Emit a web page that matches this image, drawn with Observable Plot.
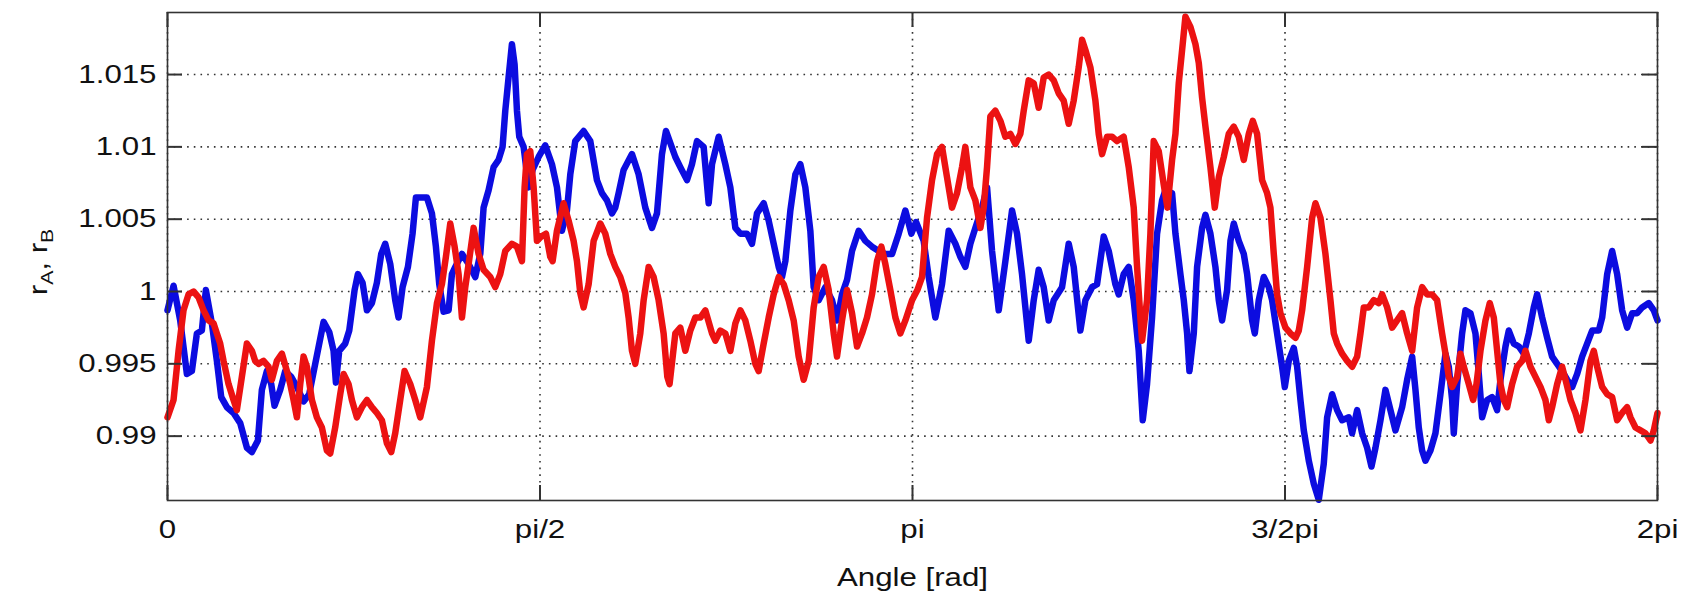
<!DOCTYPE html>
<html><head><meta charset="utf-8">
<script src="https://cdn.jsdelivr.net/npm/d3@7"></script>
<script src="https://cdn.jsdelivr.net/npm/@observablehq/plot@0.6"></script>
<style>body{margin:0;background:#fff;} svg{display:block;}</style>
</head><body><div id="chart"></div>
<script>
// Angle samples in degrees (converted to radians for the x scale), radius ratios
const blueAngleDeg = [0,1.46,3.07,4.68,5.89,7.10,8.30,9.27,10.72,11.93,12.98,14.35,15.96,17.57,19.18,20.39,21.84,22.80,24.01,25.06,25.86,27.23,28.44,29.89,31.26,32.87,34.24,35.69,37.71,39.08,40.12,40.69,41.49,42.94,43.91,45.20,46.00,47.13,48.18,49.39,50.59,51.64,52.61,53.82,55.02,55.83,56.80,58.09,59.21,60.02,61.47,62.68,63.89,64.85,65.66,66.71,67.92,68.72,69.53,71.14,72.75,74.36,75.57,76.37,77.58,78.79,79.99,80.96,81.61,82.41,83.22,83.86,84.43,84.99,86.04,87.25,88.21,89.66,91.27,92.89,94.10,95.30,96.51,97.32,98.52,100.54,102.15,103.76,104.97,106.18,107.39,108.19,108.99,110.20,112.22,113.83,115.44,117.05,118.26,119.47,120.43,122.70,123.90,125.52,126.72,127.93,129.54,130.75,131.56,133.17,134.78,135.99,137.20,138.40,140.01,141.22,142.43,144.04,145.25,146.46,147.67,148.47,149.28,150.49,151.70,152.90,154.11,155.32,156.12,157.33,158.94,160.56,161.76,162.97,164.18,165.39,167.00,168.61,170.22,171.83,173.44,175.06,176.67,178.28,179.73,180.86,182.70,183.91,185.52,187.13,188.75,190.36,191.56,192.77,193.98,195.19,196.80,198.01,199.22,200.83,202.44,204.05,205.26,206.46,208.08,209.29,210.49,211.70,212.91,214.12,216.13,217.74,218.95,220.56,221.77,223.38,224.59,226.20,227.41,229.02,229.83,231.03,232.24,233.45,234.66,235.63,236.67,237.88,239.09,240.30,241.10,242.72,243.53,244.73,245.54,246.35,246.91,247.96,248.76,249.97,250.78,251.98,253.19,254.00,254.80,256.01,256.82,257.62,258.83,260.04,260.85,262.05,262.70,263.66,264.87,266.08,266.89,268.09,269.30,269.95,270.91,272.12,272.93,273.73,274.54,275.75,276.96,278.16,279.37,280.18,281.39,282.59,283.80,285.41,286.22,287.43,288.64,289.84,290.89,291.86,293.07,294.27,295.48,296.69,298.30,299.51,300.72,301.52,302.32,303.13,303.93,305.14,306.35,307.56,308.77,309.57,310.38,310.78,311.59,312.79,313.60,314.81,316.02,316.82,317.63,318.84,320.04,321.25,322.06,323.27,324.07,325.28,326.49,327.70,328.91,330.11,330.92,332.13,333.34,334.54,335.75,336.96,338.17,339.38,340.59,341.79,343.00,344.21,345.82,346.63,347.84,349.04,350.25,351.46,352.67,353.88,355.08,356.29,357.90,359.11,360];
const blueValue = [0.9987,1.0004,0.9980,0.9943,0.9945,0.9971,0.9973,1.0001,0.9978,0.9952,0.9927,0.9920,0.9916,0.9909,0.9892,0.9889,0.9897,0.9932,0.9945,0.9936,0.9921,0.9932,0.9945,0.9941,0.9934,0.9924,0.9929,0.9950,0.9979,0.9972,0.9959,0.9937,0.9959,0.9964,0.9973,1.0001,1.0012,1.0006,0.9987,0.9992,1.0006,1.0026,1.0033,1.0019,0.9994,0.9982,1.0003,1.0017,1.0040,1.0065,1.0065,1.0065,1.0054,1.0031,1.0005,0.9986,0.9987,1.0012,1.0017,1.0026,1.0019,1.0010,1.0026,1.0058,1.0070,1.0086,1.0091,1.0100,1.0125,1.0148,1.0171,1.0157,1.0125,1.0107,1.0100,1.0072,1.0084,1.0093,1.0101,1.0088,1.0072,1.0042,1.0056,1.0081,1.0104,1.0111,1.0104,1.0077,1.0068,1.0063,1.0054,1.0058,1.0068,1.0084,1.0095,1.0081,1.0058,1.0044,1.0054,1.0095,1.0111,1.0093,1.0086,1.0077,1.0088,1.0104,1.0100,1.0061,1.0088,1.0107,1.0088,1.0072,1.0044,1.0040,1.0040,1.0033,1.0054,1.0061,1.0049,1.0033,1.0017,1.0010,1.0021,1.0056,1.0081,1.0088,1.0072,1.0042,1.0003,0.9994,1.0003,0.9994,0.9980,0.9998,1.0008,1.0028,1.0042,1.0035,1.0031,1.0028,1.0026,1.0026,1.0040,1.0056,1.0040,1.0048,1.0035,1.0010,0.9982,1.0005,1.0042,1.0033,1.0024,1.0017,1.0033,1.0044,1.0058,1.0072,1.0028,0.9987,1.0021,1.0056,1.0040,1.0012,0.9966,0.9994,1.0015,1.0003,0.9980,0.9994,1.0003,1.0033,1.0017,0.9973,0.9994,1.0003,1.0005,1.0038,1.0028,1.0005,0.9998,1.0012,1.0017,0.9994,0.9959,0.9911,0.9936,0.9982,1.0040,1.0063,1.0070,1.0068,1.0040,1.0012,0.9994,0.9971,0.9945,0.9971,1.0017,1.0044,1.0053,1.0040,1.0017,0.9994,0.9980,1.0001,1.0035,1.0047,1.0035,1.0026,1.0012,0.9980,0.9971,0.9994,1.0010,1.0003,0.9994,0.9971,0.9948,0.9934,0.9952,0.9961,0.9948,0.9925,0.9904,0.9883,0.9867,0.9856,0.9881,0.9913,0.9929,0.9918,0.9911,0.9913,0.9902,0.9918,0.9902,0.9892,0.9879,0.9892,0.9911,0.9932,0.9918,0.9904,0.9920,0.9939,0.9955,0.9932,0.9906,0.9890,0.9883,0.9890,0.9902,0.9929,0.9957,0.9948,0.9925,0.9902,0.9936,0.9971,0.9987,0.9985,0.9971,0.9943,0.9913,0.9925,0.9927,0.9918,0.9939,0.9962,0.9973,0.9964,0.9962,0.9957,0.9971,0.9989,0.9998,0.9982,0.9968,0.9955,0.9950,0.9945,0.9939,0.9934,0.9943,0.9955,0.9964,0.9973,0.9973,0.9982,1.0012,1.0028,1.0012,0.9987,0.9975,0.9985,0.9985,0.9989,0.9992,0.9987,0.9980];
const redAngleDeg = [0,1.46,2.67,3.87,5.08,6.29,7.50,8.71,9.92,11.12,11.93,12.73,13.54,14.75,15.96,16.76,17.97,19.18,20.39,21.19,22.00,23.20,24.41,25.22,26.43,27.64,28.85,29.65,30.46,31.26,32.07,32.87,33.68,34.89,36.09,37.30,38.51,39.32,40.52,41.73,42.54,43.75,44.55,45.76,46.97,48.18,49.39,50.59,51.80,53.01,54.06,55.02,56.23,57.28,58.65,59.86,61.07,62.68,63.89,65.10,66.30,67.27,68.32,69.37,70.33,71.14,71.94,72.75,73.96,75.16,76.37,77.98,79.19,80.40,81.61,83.22,84.43,85.64,86.28,86.84,87.65,88.46,89.26,90.31,91.44,92.48,93.05,94.09,95.70,96.91,98.12,98.93,99.73,100.54,101.75,102.96,104.57,105.77,106.98,108.19,109.40,110.61,111.41,112.22,113.02,114.23,115.04,116.25,117.45,118.66,119.87,120.76,121.30,122.70,123.90,125.11,126.32,127.53,128.74,129.95,131.56,132.36,133.57,134.78,135.99,137.20,138.40,139.61,140.82,142.03,142.83,144.04,145.25,146.46,147.67,148.88,150.08,151.29,152.50,153.71,154.92,156.12,157.33,158.54,159.75,160.96,161.76,162.97,164.18,165.39,166.60,167.81,169.01,170.22,171.43,172.48,173.44,174.65,175.86,177.07,178.28,179.89,181.18,182.30,183.51,184.72,185.93,187.13,188.34,189.55,190.76,191.97,192.77,193.98,195.19,196.40,197.20,198.01,198.81,200.02,201.23,202.44,203.65,204.86,206.06,206.87,208.08,209.29,210.49,211.70,212.91,214.12,215.33,216.53,217.74,218.95,220.16,220.97,221.77,222.98,224.19,224.99,225.80,227.01,228.22,229.42,231.03,232.24,233.45,234.26,235.06,235.47,236.67,237.48,238.28,239.49,240.70,241.59,242.72,243.53,244.33,245.14,245.94,247.15,248.36,249.17,249.97,250.78,251.98,253.03,254.00,255.21,256.41,257.62,258.83,260.04,261.25,262.21,263.26,264.47,265.68,266.48,267.29,268.09,268.90,270.11,271.32,272.53,273.33,274.14,275.35,276.55,277.36,278.57,279.77,280.98,281.79,282.59,283.80,285.01,286.22,287.43,288.23,289.04,290.25,291.45,292.66,293.47,294.68,295.89,297.09,298.30,299.51,300.72,301.92,303.13,304.34,305.55,306.75,307.96,308.77,309.57,310.38,311.59,312.39,313.20,314.41,315.45,316.26,317.23,318.43,319.48,320.45,321.25,322.06,322.86,323.67,324.88,326.09,327.30,328.10,329.31,330.52,331.73,332.93,333.74,334.54,335.75,336.96,337.77,338.98,340.18,341.39,342.60,343.81,344.61,345.42,346.63,347.84,349.04,350.25,351.46,352.67,353.47,354.68,355.89,357.10,358.31,359.11,360];
const redValue = [0.9913,0.9925,0.9959,0.9987,0.9998,1.0000,0.9996,0.9987,0.9980,0.9978,0.9971,0.9964,0.9952,0.9936,0.9925,0.9918,0.9941,0.9964,0.9959,0.9952,0.9950,0.9952,0.9948,0.9939,0.9952,0.9957,0.9945,0.9936,0.9925,0.9913,0.9936,0.9955,0.9948,0.9925,0.9913,0.9906,0.9890,0.9888,0.9906,0.9929,0.9943,0.9936,0.9925,0.9913,0.9920,0.9925,0.9920,0.9916,0.9911,0.9895,0.9889,0.9902,0.9925,0.9945,0.9936,0.9925,0.9913,0.9934,0.9966,0.9992,1.0005,1.0024,1.0047,1.0031,1.0012,0.9982,1.0003,1.0019,1.0044,1.0026,1.0015,1.0010,1.0003,1.0012,1.0028,1.0033,1.0031,1.0021,1.0072,1.0095,1.0097,1.0072,1.0035,1.0038,1.0040,1.0024,1.0021,1.0042,1.0061,1.0049,1.0035,1.0021,0.9999,0.9989,1.0005,1.0035,1.0047,1.0040,1.0026,1.0017,1.0010,0.9999,0.9982,0.9959,0.9950,0.9971,0.9994,1.0017,1.0010,0.9994,0.9971,0.9941,0.9936,0.9971,0.9975,0.9959,0.9973,0.9982,0.9982,0.9987,0.9971,0.9966,0.9973,0.9971,0.9959,0.9978,0.9987,0.9980,0.9966,0.9950,0.9945,0.9964,0.9982,0.9998,1.0010,1.0005,0.9994,0.9980,0.9955,0.9939,0.9952,0.9989,1.0010,1.0017,1.0001,0.9971,0.9955,0.9980,1.0001,0.9985,0.9962,0.9971,0.9982,0.9998,1.0021,1.0031,1.0019,1.0001,0.9982,0.9971,0.9980,0.9994,1.0001,1.0010,1.0051,1.0077,1.0095,1.0100,1.0079,1.0058,1.0068,1.0086,1.0100,1.0072,1.0063,1.0044,1.0058,1.0086,1.0121,1.0125,1.0118,1.0107,1.0109,1.0102,1.0109,1.0125,1.0146,1.0144,1.0127,1.0148,1.0150,1.0146,1.0137,1.0132,1.0116,1.0132,1.0155,1.0174,1.0167,1.0155,1.0132,1.0109,1.0095,1.0107,1.0107,1.0104,1.0107,1.0086,1.0058,1.0017,0.9982,0.9966,0.9994,1.0040,1.0104,1.0097,1.0074,1.0058,1.0091,1.0109,1.0144,1.0167,1.0190,1.0183,1.0171,1.0158,1.0134,1.0114,1.0086,1.0058,1.0079,1.0093,1.0109,1.0114,1.0107,1.0091,1.0109,1.0118,1.0109,1.0077,1.0068,1.0058,1.0026,0.9998,0.9985,0.9975,0.9971,0.9968,0.9973,0.9987,1.0017,1.0051,1.0061,1.0051,1.0026,0.9994,0.9971,0.9964,0.9957,0.9952,0.9948,0.9955,0.9971,0.9989,0.9989,0.9994,0.9992,0.9998,0.9989,0.9975,0.9980,0.9985,0.9971,0.9959,0.9989,1.0003,0.9998,0.9998,0.9994,0.9971,0.9957,0.9941,0.9934,0.9941,0.9957,0.9948,0.9936,0.9925,0.9936,0.9959,0.9980,0.9992,0.9982,0.9959,0.9936,0.9925,0.9920,0.9936,0.9948,0.9952,0.9959,0.9948,0.9941,0.9934,0.9925,0.9911,0.9920,0.9936,0.9948,0.9939,0.9925,0.9916,0.9904,0.9925,0.9952,0.9959,0.9948,0.9934,0.9929,0.9927,0.9911,0.9916,0.9920,0.9913,0.9906,0.9904,0.9902,0.9897,0.9904,0.9916];

const xTickValues = [0, Math.PI / 2, Math.PI, 3 * Math.PI / 2, 2 * Math.PI];
const xTickLabels = ["0", "pi/2", "pi", "3/2pi", "2pi"];
const yTickValues = [0.99, 0.995, 1, 1.005, 1.01, 1.015];
const yTickLabels = ["0.99", "0.995", "1", "1.005", "1.01", "1.015"];
const xLabel = "Angle [rad]";

const toRad = d => d * Math.PI / 180;
const blueData = blueAngleDeg.map((a, i) => ({angle: toRad(a), r: blueValue[i]}));
const redData = redAngleDeg.map((a, i) => ({angle: toRad(a), r: redValue[i]}));

const W = 1691, H = 593, mL = 167, mR = 34, mT = 12, mB = 93;
const pw = W - mL - mR, ph = H - mT - mB;
const FS = 25, SX = 1.25;
const gridStyle = {stroke: "#333", strokeOpacity: 1, strokeWidth: 1.6, strokeDasharray: "1.6,5.1"};
const tickStyle = {stroke: "#333", strokeWidth: 2};

const chart = Plot.plot({
  width: W, height: H,
  marginLeft: mL, marginRight: mR, marginTop: mT, marginBottom: mB,
  style: {fontFamily: "'Liberation Sans', Arial, sans-serif", background: "#fff", color: "#111"},
  x: {domain: [0, 2 * Math.PI]},
  y: {domain: [0.98555, 1.01929]},
  marks: [
    Plot.gridX(xTickValues, gridStyle),
    Plot.gridY(yTickValues, gridStyle),
    Plot.line(blueData, {x: "angle", y: "r", stroke: "#0c0ce0", strokeWidth: 6.5}),
    Plot.line(redData, {x: "angle", y: "r", stroke: "#ec1212", strokeWidth: 6.5}),
    Plot.tickY(yTickValues, {y: d => d, insetRight: pw - 15, ...tickStyle}),
    Plot.tickY(yTickValues, {y: d => d, insetLeft: pw - 15, ...tickStyle}),
    Plot.tickX(xTickValues, {x: d => d, insetBottom: ph - 15, ...tickStyle}),
    Plot.tickX(xTickValues, {x: d => d, insetTop: ph - 15, ...tickStyle}),
    Plot.frame({stroke: "#333", strokeWidth: 1.6}),
    Plot.axisX(xTickValues, {tickSize: 0, tickPadding: 20, fontSize: FS, label: null,
      tickFormat: d => xTickLabels[xTickValues.indexOf(d)]}),
    Plot.axisY(yTickValues, {tickSize: 0, tickPadding: 11, fontSize: FS, label: null,
      tickFormat: d => yTickLabels[yTickValues.indexOf(d)]}),
    Plot.text([xLabel], {frameAnchor: "bottom", lineAnchor: "middle", dy: 77, fontSize: FS, fill: "#111"})
  ]
});
document.getElementById("chart").appendChild(chart);

// horizontally widen the lettering like the reference
chart.querySelectorAll("text").forEach(t => {
  const tr = t.getAttribute("transform") || "";
  t.setAttribute("transform", tr + ` scale(${SX},1)`);
});

// y-axis label with subscripts
const yl = d3.select(chart).append("text")
  .attr("transform", `translate(47,262) rotate(-90) scale(${SX},1)`)
  .attr("text-anchor", "middle")
  .attr("font-family", "'Liberation Sans', Arial, sans-serif")
  .attr("font-size", FS).attr("fill", "#111");
yl.append("tspan").text("r");
yl.append("tspan").attr("font-size", 17).attr("dy", 6).text("A");
yl.append("tspan").attr("dy", -6).text(", r");
yl.append("tspan").attr("font-size", 17).attr("dy", 6).text("B");
</script>
</body></html>
